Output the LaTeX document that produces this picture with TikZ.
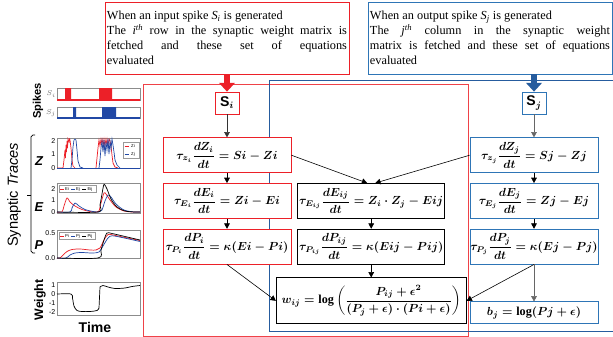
\documentclass[tikz,border=0pt]{standalone}
\usepackage{xcolor}
\usepackage{amsmath,amssymb}
\usepackage{bm}
\usepackage{fontspec}
\setmainfont{Liberation Serif}
\setsansfont{Liberation Sans}
\usepackage{tikz}
\usetikzlibrary{arrows.meta,positioning}
\definecolor{sred}{RGB}{236,32,40}
\definecolor{sblue}{RGB}{46,117,182}
\definecolor{fblue}{RGB}{38,92,158}
\definecolor{pblue}{RGB}{33,72,165}
\tikzstyle{note} = [rectangle, draw, fill=white, text width=7.2cm, align=justify,
                    inner sep=0.06cm, minimum height=2.16cm,
                    font=\fontsize{10.5}{12.8}\selectfont]
\tikzstyle{eq} = [rectangle, draw, fill=white, minimum width=3.84cm,
                  minimum height=1.05cm, inner sep=0pt, line width=0.6pt,
                  font=\fontsize{10.4}{12.5}\selectfont\boldmath]
\tikzstyle{spk} = [rectangle, draw, fill=white, minimum width=0.72cm,
                   minimum height=0.66cm, inner sep=0pt, line width=0.6pt,
                   font=\sffamily\bfseries\fontsize{12}{14}\selectfont]
\tikzstyle{arrow} = [-{Triangle[length=0.16cm,width=0.17cm]}, line width=0.5pt]
\tikzstyle{bigarrow} = [-{Triangle[length=0.26cm,width=0.46cm]}, line width=0.2cm]
\tikzstyle{frame} = [draw=black!45, line width=0.3pt, fill=white]
\tikzstyle{tick} = [font=\sffamily\fontsize{6}{7}\selectfont, inner sep=0pt, anchor=east]
\tikzstyle{lgd} = [font=\sffamily\fontsize{3.6}{4}\selectfont, inner sep=0pt]
\tikzstyle{trace} = [line width=0.6pt]

\begin{document}
\begin{tikzpicture}[x=0.03cm, y=-0.03cm]
    \useasboundingbox (0,0) rectangle (613,337);

    % the two frames
    \draw [sred!85, line width=0.6pt] (143,84) rectangle (468,336);
    \draw [fblue, line width=0.6pt] (613,80) -- (269,80) -- (269,331.5) -- (613,331.5);

    \node [note, draw=sred] (infoi) at (227,38) {When an input spike \textit{S\textsubscript{i}} is generated\\
      The \textit{i\textsuperscript{th}} row in the synaptic weight matrix is\linebreak
      fetched and these set of equations\linebreak evaluated};
    \node [note, draw=sblue] (infoj) at (490,38) {When an output spike \textit{S\textsubscript{j}} is generated\\
      The \textit{j\textsuperscript{th}} column in the synaptic weight\linebreak
      matrix is fetched and these set of equations\linebreak evaluated};

    \node [spk, draw=sred] (si) at (227,103) {S$_{\boldsymbol{i}}$};
    \node [eq, draw=sred, below=0.69cm of si] (zi) {$\displaystyle\tau_{z_i}\frac{dZ_i}{dt}=Si-Zi$};
    \node [eq, draw=sred, below=0.3cm of zi] (ei) {$\displaystyle\tau_{E_i}\frac{dE_i}{dt}=Zi-Ei$};
    \node [eq, draw=sred, below=0.3cm of ei] (pi) {$\displaystyle\tau_{P_i}\frac{dP_i}{dt}=\kappa(Ei-Pi)$};

    \node [eq, minimum width=4.41cm, right=0.18cm of ei] (eij) {$\displaystyle\tau_{E_{ij}}\frac{dE_{ij}}{dt}=Z_i\cdot Z_j-Eij$};
    \node [eq, minimum width=4.41cm, below=0.3cm of eij] (pij) {$\displaystyle\tau_{P_{ij}}\frac{dP_{ij}}{dt}=\kappa(Eij-Pij)$};
    \node [eq, minimum width=5.7cm, minimum height=1.38cm, below=0.39cm of pij] (wij)
      {$\displaystyle w_{ij}=\textbf{log}\left(\frac{P_{ij}+\epsilon^{2}}{(P_j+\epsilon)\cdot(Pi+\epsilon)}\right)$};

    \node [spk, draw=sblue] (sj) at (534,103) {S$_{\boldsymbol{j}}$};
    \node [eq, draw=sblue, below=0.69cm of sj] (zj) {$\displaystyle\tau_{z_j}\frac{dZ_j}{dt}=Sj-Zj$};
    \node [eq, draw=sblue, below=0.3cm of zj] (ej) {$\displaystyle\tau_{E_j}\frac{dE_j}{dt}=Zj-Ej$};
    \node [eq, draw=sblue, below=0.3cm of ej] (pj) {$\displaystyle\tau_{P_j}\frac{dP_j}{dt}=\kappa(Ej-Pj)$};
    \node [eq, draw=sblue, minimum height=0.66cm, below=1.11cm of pj] (bj) {$b_j=\textbf{log}(Pj+\epsilon)$};

    \draw [bigarrow, sred] (infoi) -- (si);
    \draw [bigarrow, fblue] (infoj.south -| sj.north) -- (sj.north);

    \draw [arrow, black!80] (si) -- (zi);
    \draw [arrow] (zi) -- (ei);
    \draw [arrow] (ei) -- (pi);
    \draw [arrow, black!60] (sj) -- (zj);
    \draw [arrow] (zj) -- (ej);
    \draw [arrow] (ej) -- (pj);
    \draw [arrow, black!60] (pj) -- (bj);
    \draw [arrow] (zi.east) -- ([xshift=-0.12cm]eij.north);
    \draw [arrow] (zj.west) -- ([xshift=0.12cm]eij.north);
    \draw [arrow] (eij) -- (pij);
    \draw [arrow] (pij) -- (wij);
    \draw [arrow] (pi.south) -- (wij.west);
    \draw [arrow] (pj.south) -- (wij.east);

    % spike trains
    \draw [frame] (57,88) rectangle (140,100);
    \fill [sred] (65,88) rectangle (71,100) (99,88) rectangle (112,100);
    \draw [sred, line width=1pt] (57,100) -- (140,100);
    \draw [frame] (57,107) rectangle (140,118);
    \fill [pblue] (73,107) rectangle (76,118) (102,107) rectangle (116,118);
    \draw [pblue, line width=1pt] (57,118) -- (140,118);
    \node [tick, font=\fontsize{6}{7}\selectfont, text=black!60] (tsi) at (56,94) {$S_i$};
    \node [tick, font=\fontsize{6}{7}\selectfont, text=black!60] (tsj) at (56,113) {$S_j$};

    % Z traces
    \draw [frame] (57,138) rectangle (140,168);
    \draw [trace, sred] (57,168) -- (63,168) -- (64,160) -- (65,150) -- (65.5,158) -- (66,145) -- (66.5,152) -- (67,141)
      -- (67.5,148) -- (68,139) -- (69,142) -- (69.5,139) -- (70,140) -- (71,148) -- (72,160) -- (73,166) -- (75,168);
    \draw [trace, pblue] (71,168) -- (72,160) -- (73,147) -- (74,140) -- (75,139) -- (76,140) -- (77,150) -- (78,161)
      -- (80,167) -- (83,168);
    \draw [trace, sred] (96,168) -- (97,158) -- (98,148) -- (99,140) -- (100,146) -- (101,139) -- (102,144) -- (103,139)
      -- (104,147) -- (105,139) -- (106,145) -- (107,139) -- (108,146) -- (109,139) -- (110,141) -- (111,146)
      -- (112,155) -- (113,163) -- (115,167) -- (118,168);
    \draw [trace, pblue] (99,168) -- (100,160) -- (101,148) -- (102,141) -- (103,152) -- (104,140) -- (105,156)
      -- (106,142) -- (107,150) -- (108,139) -- (109,154) -- (110,141) -- (111,149) -- (112,139) -- (113,145)
      -- (114,152) -- (115,160) -- (117,165) -- (120,168);
    \draw [pblue, line width=0.8pt] (57,168) -- (140,168);
    \draw [draw=black!40, fill=white, line width=0.2pt] (123,142) rectangle (139,158);
    \draw [sred, line width=0.6pt] (124.5,146) -- (129,146);
    \draw [pblue, line width=0.6pt] (124.5,154) -- (129,154);
    \node [lgd] (lzi) at (133,146) {Zi};
    \node [lgd] (lzj) at (133,154) {Zj};
    \node [tick] (tz2) at (55.5,141) {2};
    \node [tick] (tz1) at (55.5,154.5) {1};
    \node [tick] (tz0) at (55.5,168) {0};

    % E traces
    \draw [frame] (57,183) rectangle (140,213);
    \draw [trace, sred] plot [smooth, tension=0.5] coordinates {(57,212) (62,212) (64,206) (67,198) (70,202) (75,206)
      (82,209.5) (90,211.5) (97,212) (99,211) (101,203) (104,193) (106,194) (110,200) (116,207) (124,211) (132,212) (140,212)};
    \draw [trace, pblue] plot [smooth, tension=0.5] coordinates {(57,212) (70,212) (72,208) (75,203) (79,206) (85,209.5)
      (93,211.5) (99,212) (102,210) (105,201) (108,195) (111,197) (116,204) (124,210) (134,212) (140,212)};
    \draw [trace, black] plot [smooth, tension=0.5] coordinates {(57,212) (98,212) (100,205) (102,194) (104,184.5)
      (107,189) (111,199) (117,207) (125,211) (135,212) (140,212)};
    \draw [draw=black!40, fill=white, line width=0.2pt] (59,185.5) rectangle (96,192.5);
    \draw [sred, line width=0.6pt] (60,189) -- (64,189);
    \draw [pblue, line width=0.6pt] (71,189) -- (75,189);
    \draw [black, line width=0.6pt] (82,189) -- (86,189);
    \node [lgd] (lei) at (67,189) {Ei};
    \node [lgd] (lej) at (78,189) {Ej};
    \node [lgd] (leij) at (90,189) {Eij};
    \node [tick] (te2) at (55.5,189) {2};
    \node [tick] (te1) at (55.5,200.5) {1};
    \node [tick] (te0) at (55.5,212) {0};

    % P traces
    \draw [frame] (57,230) rectangle (140,258);
    \draw [trace, sred] plot [smooth, tension=0.5] coordinates {(57,258) (60,258) (63,255) (67,251.5) (72,249.5) (80,249)
      (90,250) (96,250) (100,248) (104,240) (108,234.5) (113,235) (125,237.5) (140,240.5)};
    \draw [trace, pblue] plot [smooth, tension=0.5] coordinates {(57,258) (66,258) (70,255) (75,253) (82,252.5) (92,253)
      (99,252) (103,246) (108,238) (112,235.8) (122,237.5) (140,241.5)};
    \draw [trace, black] plot [smooth, tension=0.5] coordinates {(57,258) (98,258) (101,250) (104,240) (107,233)
      (112,233.5) (125,236.5) (140,240)};
    \draw [draw=black!40, fill=white, line width=0.2pt] (59,232.5) rectangle (95,239.5);
    \draw [sred, line width=0.6pt] (60,236) -- (64,236);
    \draw [pblue, line width=0.6pt] (71,236) -- (75,236);
    \draw [black, line width=0.6pt] (82,236) -- (86,236);
    \node [lgd] (lpi) at (67,236) {Pi};
    \node [lgd] (lpj) at (78,236) {Pj};
    \node [lgd] (lpij) at (90,236) {Pij};
    \node [tick] (tp5) at (55.5,233) {0.5};
    \node [tick] (tp0) at (55.5,258) {0.0};

    % weight
    \draw [frame] (57,282) rectangle (140,315);
    \draw [trace, black] plot [smooth, tension=0.5] coordinates {(57,294) (71,294) (72.5,298) (74,306) (77,310.5)
      (82,311.5) (90,311.5) (97,310.5) (99,308)} -- plot [smooth, tension=0.5] coordinates {(100,287) (103,285.5)
      (108,287) (115,288.5) (125,288) (132,286.5) (140,285.5)};
    \node [tick] (tw1) at (55.5,285) {1};
    \node [tick] (tw0) at (55.5,294) {0};
    \node [tick] (twm1) at (55.5,303) {-1};
    \node [tick] (twm2) at (55.5,312) {-2};

    % axis labels
    \node [rotate=90, font=\sffamily\bfseries\fontsize{9.5}{11}\selectfont] (lblspikes) at (38,101) {Spikes};
    \node [rotate=90, font=\sffamily\fontsize{12.5}{14}\selectfont] (lbltraces) at (14,195) {Synaptic \textit{Traces}};
    \node [font=\sffamily\bfseries\itshape\fontsize{11}{13}\selectfont] (lblz) at (39,161) {Z};
    \node [font=\sffamily\bfseries\itshape\fontsize{11}{13}\selectfont] (lble) at (39,207) {E};
    \node [font=\sffamily\bfseries\itshape\fontsize{11}{13}\selectfont] (lblp) at (39,245) {P};
    \node [rotate=90, font=\sffamily\bfseries\fontsize{10.5}{12}\selectfont] (lblweight) at (40,300) {Weight};
    \node [font=\sffamily\bfseries\fontsize{12}{14}\selectfont] (lbltime) at (95,327) {Time};
    \draw [line width=0.6pt, rounded corners=1.5pt] (35,135) -- (31,135) -- (31,253) -- (35,253);
    \draw [line width=0.6pt] (31,195) -- (27,195);
  \end{tikzpicture}
\end{document}
